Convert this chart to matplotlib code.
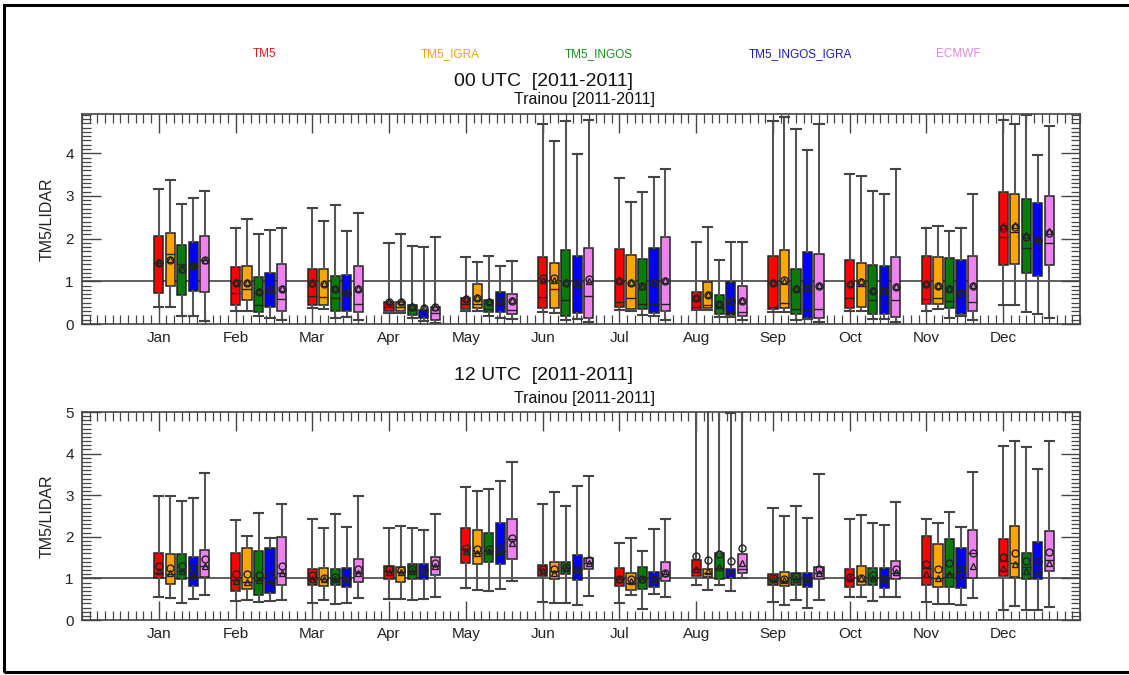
import matplotlib
matplotlib.use("Agg")
import matplotlib.pyplot as plt
from matplotlib.ticker import MultipleLocator
from matplotlib.patches import Rectangle
import numpy as np

plt.rcParams['font.family'] = ['Liberation Sans', 'DejaVu Sans']

months = ['Jan', 'Feb', 'Mar', 'Apr', 'May', 'Jun', 'Jul', 'Aug', 'Sep', 'Oct', 'Nov', 'Dec']
models = ['TM5', 'TM5_IGRA', 'TM5_INGOS', 'TM5_INGOS_IGRA', 'ECMWF']
box_colors = ['#ff0000', '#ffa500', '#0a7a0a', '#0000ff', '#ee82ee']
label_colors = ['#d81e1e', '#e8a317', '#228b22', '#1c1cb4', '#dd88dd']

# ---- 00 UTC: one list per model, 12 monthly values each ----
utc00_whislo = [
    [0.39, 0.31, 0.37, 0.25, 0.30, 0.27, 0.33, 0.33, 0.27, 0.31, 0.31, 0.45],
    [0.41, 0.31, 0.34, 0.25, 0.30, 0.25, 0.30, 0.33, 0.27, 0.31, 0.34, 0.45],
    [0.19, 0.19, 0.13, 0.13, 0.19, 0.09, 0.21, 0.17, 0.09, 0.12, 0.13, 0.27],
    [0.19, 0.13, 0.17, 0.08, 0.13, 0.12, 0.19, 0.16, 0.12, 0.12, 0.19, 0.23],
    [0.08, 0.09, 0.09, 0.03, 0.12, 0.05, 0.09, 0.09, 0.05, 0.05, 0.09, 0.13],
]
utc00_q1 = [
    [0.73, 0.45, 0.45, 0.30, 0.35, 0.38, 0.41, 0.33, 0.34, 0.38, 0.48, 1.38],
    [0.90, 0.56, 0.44, 0.31, 0.38, 0.38, 0.35, 0.37, 0.37, 0.39, 0.48, 1.41],
    [0.68, 0.27, 0.31, 0.21, 0.27, 0.19, 0.34, 0.23, 0.23, 0.23, 0.38, 1.19],
    [0.78, 0.41, 0.30, 0.13, 0.27, 0.25, 0.25, 0.20, 0.13, 0.23, 0.23, 1.13],
    [0.74, 0.31, 0.28, 0.09, 0.23, 0.13, 0.30, 0.19, 0.13, 0.16, 0.31, 1.38],
]
utc00_med = [
    [1.44, 0.72, 0.65, 0.41, 0.47, 0.64, 0.52, 0.39, 0.41, 0.60, 0.59, 2.04],
    [1.63, 0.81, 0.64, 0.41, 0.47, 0.82, 0.62, 0.44, 0.50, 0.89, 0.62, 2.16],
    [1.40, 0.44, 0.60, 0.33, 0.34, 0.56, 0.48, 0.37, 0.35, 0.56, 0.55, 1.79],
    [1.35, 0.76, 0.70, 0.21, 0.40, 0.72, 0.47, 0.27, 0.33, 0.50, 0.53, 1.96],
    [1.50, 0.58, 0.47, 0.25, 0.33, 0.65, 0.48, 0.27, 0.34, 0.56, 0.52, 1.89],
]
utc00_q3 = [
    [2.06, 1.33, 1.28, 0.51, 0.60, 1.58, 1.75, 0.76, 1.60, 1.51, 1.59, 3.09],
    [2.14, 1.36, 1.28, 0.51, 0.93, 1.42, 1.61, 0.98, 1.73, 1.44, 1.57, 3.05],
    [1.84, 1.09, 1.12, 0.45, 0.56, 1.73, 1.52, 0.68, 1.28, 1.38, 1.54, 2.94],
    [1.92, 1.20, 1.14, 0.33, 0.74, 1.60, 1.79, 0.98, 1.69, 1.37, 1.49, 2.83],
    [2.07, 1.40, 1.36, 0.41, 0.70, 1.77, 2.03, 0.89, 1.65, 1.56, 1.60, 2.99],
]
utc00_whishi = [
    [3.17, 2.26, 2.72, 1.90, 1.56, 4.69, 3.41, 1.93, 4.76, 3.51, 2.26, 4.77],
    [3.37, 2.45, 2.42, 2.12, 1.46, 4.28, 2.85, 2.28, 4.85, 3.46, 2.29, 4.68],
    [2.81, 2.11, 2.79, 1.82, 1.59, 4.76, 3.09, 1.50, 4.57, 3.12, 2.18, 4.89],
    [2.96, 2.20, 2.18, 1.81, 1.36, 3.98, 3.45, 1.93, 4.07, 3.04, 2.24, 3.95],
    [3.12, 2.26, 2.61, 2.04, 1.47, 4.79, 3.64, 1.93, 4.68, 3.62, 3.05, 4.65],
]
utc00_circle = [
    [1.44, 0.95, 0.95, 0.51, 0.58, 1.08, 1.01, 0.62, 0.97, 0.93, 0.93, 2.24],
    [1.51, 0.95, 0.93, 0.51, 0.62, 1.07, 0.97, 0.69, 1.04, 0.99, 0.90, 2.28],
    [1.28, 0.75, 0.83, 0.41, 0.51, 0.97, 0.89, 0.47, 0.83, 0.78, 0.83, 2.04],
    [1.37, 0.80, 0.73, 0.38, 0.54, 0.93, 0.97, 0.54, 0.85, 0.78, 0.73, 1.96],
    [1.49, 0.81, 0.83, 0.39, 0.55, 1.05, 1.01, 0.54, 0.90, 0.87, 0.89, 2.14],
]
utc00_triangle = [
    [1.46, 0.99, 0.97, 0.53, 0.60, 1.03, 1.02, 0.63, 0.99, 0.95, 0.95, 2.30],
    [1.53, 0.99, 0.95, 0.53, 0.63, 1.02, 0.98, 0.70, 1.00, 1.00, 0.92, 2.33],
    [1.30, 0.77, 0.85, 0.43, 0.53, 0.99, 0.90, 0.49, 0.85, 0.80, 0.85, 2.09],
    [1.39, 0.82, 0.75, 0.40, 0.56, 0.95, 0.98, 0.56, 0.87, 0.80, 0.75, 1.98],
    [1.51, 0.85, 0.85, 0.41, 0.57, 1.00, 1.02, 0.56, 0.92, 0.89, 0.92, 2.19],
]

# ---- 12 UTC ----
utc12_whislo = [
    [0.55, 0.45, 0.41, 0.51, 0.77, 0.44, 0.41, 0.85, 0.43, 0.55, 0.43, 0.25],
    [0.53, 0.49, 0.47, 0.51, 0.73, 0.40, 0.60, 0.72, 0.35, 0.56, 0.39, 0.33],
    [0.40, 0.44, 0.39, 0.49, 0.69, 0.41, 0.27, 0.85, 0.48, 0.45, 0.39, 0.23],
    [0.51, 0.45, 0.41, 0.51, 0.75, 0.37, 0.63, 0.69, 0.29, 0.55, 0.37, 0.25],
    [0.60, 0.49, 0.52, 0.56, 0.93, 0.57, 0.55, 1.00, 0.49, 0.56, 0.52, 0.31],
]
utc12_q1 = [
    [1.00, 0.69, 0.85, 0.98, 1.36, 1.06, 0.81, 1.06, 0.83, 0.80, 0.84, 1.06],
    [0.87, 0.75, 0.81, 0.91, 1.34, 0.98, 0.73, 1.04, 0.81, 0.84, 0.79, 1.03],
    [0.99, 0.61, 0.83, 0.99, 1.40, 1.10, 0.75, 0.99, 0.83, 0.84, 0.79, 0.99],
    [0.81, 0.65, 0.80, 0.98, 1.34, 0.95, 0.79, 1.02, 0.79, 0.77, 0.77, 0.99],
    [1.04, 0.84, 0.92, 1.08, 1.46, 1.22, 0.94, 1.14, 0.98, 0.98, 1.00, 1.18],
]
utc12_med = [
    [1.14, 0.95, 0.99, 1.18, 1.70, 1.22, 0.98, 1.22, 0.96, 0.98, 1.25, 1.42],
    [1.11, 0.91, 0.98, 1.15, 1.62, 1.18, 0.88, 1.14, 0.94, 0.94, 1.02, 1.38],
    [1.18, 0.95, 0.98, 1.18, 1.65, 1.26, 0.98, 1.25, 0.98, 0.98, 1.10, 1.28],
    [1.06, 0.91, 0.98, 1.18, 1.66, 1.23, 0.98, 1.14, 0.96, 0.95, 1.14, 1.42],
    [1.30, 1.14, 1.14, 1.30, 1.94, 1.38, 1.10, 1.22, 1.14, 1.14, 1.60, 1.44],
]
utc12_q3 = [
    [1.62, 1.60, 1.23, 1.30, 2.21, 1.32, 1.24, 1.44, 1.11, 1.22, 2.02, 1.94],
    [1.58, 1.73, 1.25, 1.28, 2.17, 1.40, 1.14, 1.22, 1.15, 1.30, 1.82, 2.25],
    [1.58, 1.65, 1.22, 1.35, 2.10, 1.40, 1.27, 1.60, 1.14, 1.26, 1.94, 1.60],
    [1.52, 1.73, 1.24, 1.35, 2.32, 1.56, 1.15, 1.23, 1.14, 1.24, 1.74, 1.88],
    [1.69, 2.00, 1.46, 1.52, 2.43, 1.48, 1.40, 1.58, 1.28, 1.43, 2.17, 2.13],
]
utc12_whishi = [
    [2.97, 2.40, 2.42, 2.20, 3.19, 2.78, 1.86, 6.20, 2.70, 2.43, 2.43, 4.18],
    [2.98, 2.02, 2.20, 2.25, 3.09, 3.07, 1.98, 6.20, 2.49, 2.52, 2.32, 4.31],
    [2.85, 2.57, 2.56, 2.21, 3.15, 2.73, 1.66, 6.20, 2.75, 2.33, 2.59, 4.17],
    [2.93, 1.96, 2.24, 2.16, 3.33, 3.22, 2.18, 4.98, 2.44, 2.29, 2.23, 3.64],
    [3.53, 2.78, 2.97, 2.55, 3.80, 3.45, 2.43, 6.20, 3.50, 2.83, 3.55, 4.30],
]
utc12_circle = [
    [1.31, 1.10, 1.07, 1.23, 1.74, 1.23, 0.98, 1.54, 1.02, 1.04, 1.34, 1.52],
    [1.26, 1.10, 1.02, 1.19, 1.70, 1.23, 0.98, 1.44, 0.99, 1.02, 1.22, 1.62],
    [1.30, 1.07, 1.04, 1.23, 1.70, 1.28, 0.98, 1.58, 1.06, 1.07, 1.36, 1.43],
    [1.26, 1.06, 1.02, 1.19, 1.74, 1.23, 0.98, 1.42, 0.99, 0.98, 1.22, 1.42],
    [1.46, 1.31, 1.23, 1.36, 1.98, 1.44, 1.14, 1.72, 1.23, 1.23, 1.60, 1.64],
]
utc12_triangle = [
    [1.18, 0.94, 0.98, 1.15, 1.66, 1.18, 0.98, 1.23, 0.98, 1.02, 1.10, 1.26],
    [1.12, 0.91, 0.98, 1.15, 1.62, 1.14, 0.94, 1.18, 0.95, 1.00, 1.02, 1.34],
    [1.18, 0.95, 0.98, 1.18, 1.66, 1.24, 0.98, 1.28, 0.99, 1.02, 1.10, 1.18],
    [1.08, 0.92, 0.98, 1.18, 1.66, 1.20, 0.98, 1.16, 0.97, 0.96, 1.02, 1.18],
    [1.30, 1.14, 1.14, 1.30, 1.86, 1.36, 1.12, 1.38, 1.14, 1.16, 1.30, 1.36],
]

panels = [
    dict(title='00 UTC  [2011-2011]', ymax=4.92, whislo=utc00_whislo, q1=utc00_q1, med=utc00_med,
         q3=utc00_q3, whishi=utc00_whishi, circle=utc00_circle, triangle=utc00_triangle),
    dict(title='12 UTC  [2011-2011]', ymax=5.0, whislo=utc12_whislo, q1=utc12_q1, med=utc12_med,
         q3=utc12_q3, whishi=utc12_whishi, circle=utc12_circle, triangle=utc12_triangle),
]

fig = plt.figure(figsize=(11.29, 6.75), dpi=100)

# outer frame (right edge runs off the picture)
fig.patches.append(Rectangle((4 / 1129, 3 / 675), 1.05, 667 / 675, transform=fig.transFigure,
                             fill=False, edgecolor='black', linewidth=2.2))

for i, name in enumerate(models):
    fig.text([0.234, 0.399, 0.530, 0.709, 0.849][i], 0.920, name, color=label_colors[i],
             fontsize=8.5, ha='center', va='center')

axes_rects = [[82 / 1129, 1 - 324 / 675, 998 / 1129, 210 / 675],
              [82 / 1129, 1 - 620 / 675, 998 / 1129, 208 / 675]]
title_y = [(0.880, 0.852), (0.444, 0.410)]

x = np.arange(1, 13)
offsets = [0.0, 0.15, 0.30, 0.45, 0.60]

for p, rect, (ty1, ty2) in zip(panels, axes_rects, title_y):
    ax = fig.add_axes(rect)
    ax.axhline(1.0, color='#444444', lw=1.2, zorder=1)
    for m in range(5):
        stats = []
        for k in range(12):
            stats.append(dict(whislo=p['whislo'][m][k], q1=p['q1'][m][k], med=p['med'][m][k],
                              q3=p['q3'][m][k], whishi=p['whishi'][m][k]))
        pos = x + offsets[m]
        ax.bxp(stats, positions=pos, widths=0.12, capwidths=0.12, patch_artist=True,
               showfliers=False, manage_ticks=False,
               boxprops=dict(facecolor=box_colors[m], edgecolor='#222222', linewidth=1.1),
               whiskerprops=dict(color='#555555', linewidth=1.5),
               capprops=dict(color='#444444', linewidth=1.5),
               medianprops=dict(color='#222222', linewidth=1.0))
        ax.plot(pos, p['circle'][m], 'o', ms=5, mfc='none', mec='#222222', mew=1.0, zorder=5)
        ax.plot(pos, p['triangle'][m], '^', ms=4, mfc='none', mec='#222222', mew=1.0, zorder=5)

    ax.set_xlim(0, 13)
    ax.set_ylim(0, p['ymax'])
    ax.set_xticks(x)
    ax.set_xticklabels(months)
    ax.set_yticks([0, 1, 2, 3, 4] if p['ymax'] < 5 else [0, 1, 2, 3, 4, 5])
    ax.xaxis.set_minor_locator(MultipleLocator(0.1))
    ax.yaxis.set_minor_locator(MultipleLocator(0.1))
    ax.tick_params(which='both', direction='in', top=True, right=True, color='#444444',
                   labelsize=11, labelcolor='#222222')
    ax.tick_params(which='major', length=13.5, width=1.0)
    ax.tick_params(which='minor', length=6.5, width=0.9)
    ax.tick_params(axis='x', which='major', pad=5)
    ax.tick_params(axis='y', which='major', pad=6)
    for s in ax.spines.values():
        s.set_color('#444444')
        s.set_linewidth(1.2)

    fig.text(0.481, ty1, p['title'], fontsize=14, ha='center', va='center', color='#111111')
    fig.text(0.518, ty2, 'Trainou [2011-2011]', fontsize=11.5, ha='center', va='center',
             color='#111111')
    fig.text(47 / 1129, rect[1] + rect[3] / 2, 'TM5/LIDAR', rotation=90, fontsize=11.5,
             ha='center', va='center', color='#222222')

fig.savefig('out.png', dpi=100)
